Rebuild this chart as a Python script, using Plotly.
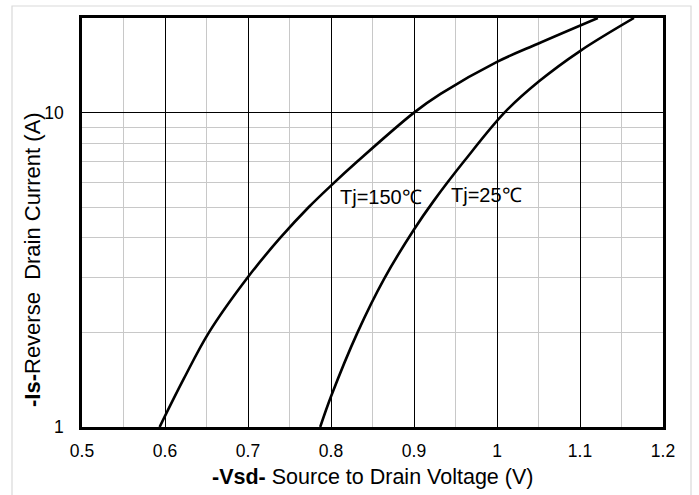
import plotly.graph_objects as go
import math

# Data
v_150 = [0.5935, 0.623, 0.653, 0.700, 0.739, 0.773, 0.800, 0.833, 0.900, 0.932, 1.000, 1.050, 1.1215]
i_150 = [1.0, 1.43, 2.0, 3.0, 4.0, 5.0, 5.86, 7.04, 10.0, 11.47, 14.5, 16.6, 20.0]

v_25 = [0.787, 0.800, 0.832, 0.864, 0.900, 0.924, 0.961, 1.009, 1.051, 1.100, 1.165]
i_25 = [1.0, 1.25, 2.0, 2.96, 4.25, 5.25, 7.04, 10.0, 12.6, 15.7, 20.0]

x_ticks = [0.5, 0.6, 0.7, 0.8, 0.9, 1.0, 1.1, 1.2]
x_ticktext = ["0.5", "0.6", "0.7", "0.8", "0.9", "1", "1.1", "1.2"]
x_minor = [0.55, 0.65, 0.75, 0.85, 0.95, 1.05, 1.15]
y_ticks = [1, 10]
y_ticktext = ["1", "10"]
y_minor = [2, 3, 4, 5, 6, 7, 8, 9]

FONT = "Liberation Sans, Arial, sans-serif"

fig = go.Figure()
for v, i in [(v_150, i_150), (v_25, i_25)]:
    fig.add_trace(go.Scatter(x=v, y=i, mode="lines",
                             line=dict(color="black", width=2.6, shape="spline", smoothing=1.0),
                             showlegend=False, hoverinfo="skip"))

fig.update_layout(
    width=699, height=495,
    margin=dict(l=82, r=36, t=18, b=68),
    paper_bgcolor="white", plot_bgcolor="white",
    font=dict(family=FONT, color="black", size=17),
    xaxis=dict(range=[0.5, 1.2], tickmode="array", tickvals=x_ticks, ticktext=x_ticktext,
               showgrid=True, gridcolor="black", gridwidth=1,
               minor=dict(tickmode="array", tickvals=x_minor, showgrid=True,
                          gridcolor="#c8c8c8", gridwidth=1.2),
               showline=True, linecolor="black", linewidth=2.6, mirror=True,
               ticks="", ticklabelstandoff=6, zeroline=False,
               tickfont=dict(size=17.5)),
    yaxis=dict(type="log", range=[0, math.log10(20)], tickmode="array",
               tickvals=y_ticks, ticktext=y_ticktext,
               showgrid=True, gridcolor="black", gridwidth=1,
               minor=dict(tickmode="array", tickvals=y_minor, showgrid=True,
                          gridcolor="#c8c8c8", gridwidth=1.2),
               showline=True, linecolor="black", linewidth=2.6, mirror=True,
               ticks="", ticklabelstandoff=12, zeroline=False,
               tickfont=dict(size=17.5)),
)

# outer light border of the chart area
fig.add_shape(type="rect", xref="paper", yref="paper",
              x0=(12 - 82) / 581, x1=(691 - 82) / 581,
              y0=-0.3, y1=1 + 12 / 409,
              line=dict(color="#d9d9d9", width=1.2), layer="below")

fig.add_annotation(x=0.860, y=math.log10(5.38), text="Tj=150℃", showarrow=False,
                   font=dict(size=20, family=FONT))
fig.add_annotation(x=0.987, y=math.log10(5.49), text="Tj=25℃", showarrow=False,
                   font=dict(size=20, family=FONT))

fig.add_annotation(xref="paper", yref="paper", x=0.5, y=-(477 - 427) / 409,
                   text="<b>-Vsd-</b> Source to Drain Voltage (V)", showarrow=False,
                   xanchor="center", yanchor="middle", font=dict(size=21.5, family=FONT))
fig.add_annotation(xref="paper", yref="paper", x=(32 - 82) / 581, y=(427 - 260) / 409,
                   text="<b>-Is-</b>Reverse  Drain Current (A)", showarrow=False, textangle=-90,
                   xanchor="center", yanchor="middle", font=dict(size=22, family=FONT))

fig.write_html("out.html")
